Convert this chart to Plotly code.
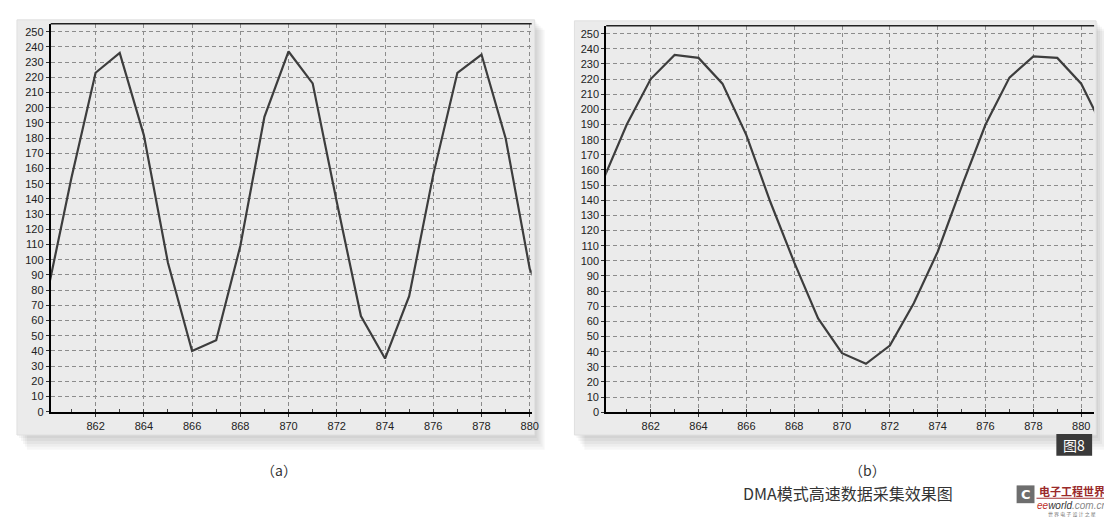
import plotly.graph_objects as go

x_a = list(range(860, 882))
y_a = [78, 154, 223, 236, 182, 98, 40, 47, 109, 194, 237, 216, 138, 63, 35, 76,
       156, 223, 235, 180, 94, 60]

x_b = list(range(860, 882))
y_b = [153, 190, 220, 236, 234, 217, 183, 139, 99, 62, 39, 32, 44, 72, 106, 149,
       190, 221, 235, 234, 217, 185]

x_ticks = list(range(862, 881, 2))
y_ticks = list(range(0, 251, 10))
captions = ["（a）", "（b）"]
title = "DMA模式高速数据采集效果图"

W, H = 1112, 517


def px(x):
    return x / W


def py(y):
    return 1 - y / H


fig = go.Figure()
fig.add_trace(go.Scatter(x=x_a, y=y_a, mode="lines", xaxis="x", yaxis="y",
                         line=dict(color="#3d3d3d", width=2.2), hoverinfo="skip"))
fig.add_trace(go.Scatter(x=x_b, y=y_b, mode="lines", xaxis="x2", yaxis="y2",
                         line=dict(color="#3d3d3d", width=2.2), hoverinfo="skip"))

tick_font = dict(family="Liberation Sans, Arial", size=11, color="#222")
common_x = dict(tickvals=x_ticks, showgrid=True, gridcolor="#8c8c8c", gridwidth=1,
                griddash="4px,3px", showline=True, linecolor="#000", linewidth=2,
                ticks="outside", ticklen=3, tickcolor="#333", tickfont=tick_font,
                zeroline=False, fixedrange=True,
                minor=dict(dtick=1, ticks="inside", ticklen=3, tickcolor="#444", showgrid=False))
common_y = dict(tickvals=y_ticks, range=[0, 255.2], showgrid=True, gridcolor="#8c8c8c",
                gridwidth=1, griddash="4px,3px", showline=True, linecolor="#000",
                linewidth=2, ticks="outside", ticklen=3, tickcolor="#333",
                tickfont=tick_font, zeroline=False, fixedrange=True)

fig.update_layout(
    width=W, height=H, margin=dict(l=0, r=0, t=0, b=0),
    paper_bgcolor="white", plot_bgcolor="#ebebeb", showlegend=False,
    xaxis=dict(domain=[px(43), px(527)], range=[860.14, 880.08], anchor="y", **common_x),
    yaxis=dict(domain=[py(408.5), py(16)], anchor="x", **common_y),
    xaxis2=dict(domain=[px(602), px(1093)], range=[860.14, 880.54], anchor="y2", **common_x),
    yaxis2=dict(domain=[py(409), py(18)], anchor="x2", **common_y),
)

shapes = []
# panels with soft shadow
for (x0, y0, x1, y1) in [(9, 12, 530, 432), (570, 13, 1095, 432)]:
    for k in range(5, 0, -1):
        shapes.append(dict(type="rect", xref="paper", yref="paper", layer="below",
                           x0=px(x0 + 2 * k), x1=px(x1 + 2 * k), y0=py(y1 + 3 * k), y1=py(y0 + 2 * k),
                           fillcolor="rgba(0,0,0,0.035)", line=dict(width=0)))
    shapes.append(dict(type="rect", xref="paper", yref="paper", layer="below",
                       x0=px(x0), x1=px(x1), y0=py(y1), y1=py(y0),
                       fillcolor="#ebebeb", line=dict(color="#e0e0e0", width=1)))
# top border of plot areas
shapes.append(dict(type="line", xref="paper", yref="paper", x0=px(43), x1=px(527),
                   y0=py(16), y1=py(16), line=dict(color="#222", width=1.5)))
shapes.append(dict(type="line", xref="paper", yref="paper", x0=px(602), x1=px(1093),
                   y0=py(18), y1=py(18), line=dict(color="#222", width=1.5)))
# figure badge
shapes.append(dict(type="rect", xref="paper", yref="paper", x0=px(1055), x1=px(1091),
                   y0=py(453), y1=py(431), fillcolor="#3a3a3a", line=dict(width=0)))
# logo block
shapes.append(dict(type="rect", xref="paper", yref="paper", x0=px(1015), x1=px(1033),
                   y0=py(501), y1=py(483), fillcolor="#6e6e6e", line=dict(width=0)))
shapes.append(dict(type="line", xref="paper", yref="paper", x0=px(1035), x1=px(1108),
                   y0=py(496), y1=py(496), line=dict(color="#a03030", width=1)))
fig.update_layout(shapes=shapes)

serif = "Noto Sans CJK SC, DejaVu Serif"
ann = [
    dict(x=px(273), y=py(467), text=captions[0], font=dict(family=serif, size=14, color="#333")),
    dict(x=px(865), y=py(467), text=captions[1], font=dict(family=serif, size=14, color="#333")),
    dict(x=px(845), y=py(491), text=title, font=dict(family=serif, size=16, color="#333")),
    dict(x=px(1073), y=py(442), text="图8", font=dict(family="Noto Sans CJK SC", size=14, color="white")),
    dict(x=px(1024), y=py(492), text="<b>C</b>", font=dict(family="DejaVu Sans", size=13, color="white")),
    dict(x=px(1071), y=py(489), text="<b>电子工程世界</b>",
         font=dict(family="Noto Sans CJK SC", size=11, color="#9a2a2a")),
    dict(x=px(1071), y=py(503), text="<i><span style='color:#c0302a'>ee</span>world<span style='color:#888'>.com.cn</span></i>",
         font=dict(family="Liberation Sans", size=10, color="#333")),
    dict(x=px(1071), y=py(512), text="世 界 电 子 设 计 之 星",
         font=dict(family="Noto Sans CJK SC", size=5, color="#777")),
]
for a in ann:
    a.update(xref="paper", yref="paper", showarrow=False, xanchor="center", yanchor="middle")
fig.update_layout(annotations=ann)

fig.write_html("out.html")
